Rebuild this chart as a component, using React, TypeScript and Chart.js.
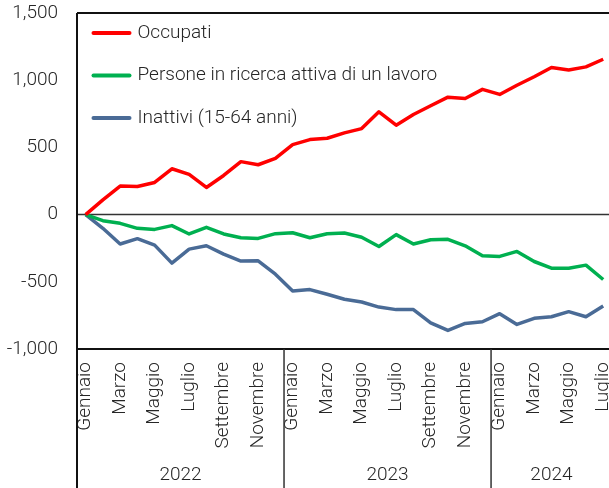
import React, { useEffect, useRef } from "react";
import { Chart, registerables } from "chart.js";
Chart.register(...registerables);

const MONTHS = ["Gennaio", "Febbraio", "Marzo", "Aprile", "Maggio", "Giugno", "Luglio", "Agosto", "Settembre", "Ottobre", "Novembre", "Dicembre"];
const YEARS = ["2022", "2023", "2024"];
const MONTHS_PER_YEAR = [12, 12, 7];
const Y_TICKS = [-1000, -500, 0, 500, 1000, 1500];

const SERIES_NAMES = ["Occupati", "Persone in ricerca attiva di un lavoro", "Inattivi (15-64 anni)"];
const SERIES_COLORS = ["#FF0000", "#00B050", "#4A6B96"];

const occupati = [0, 110, 212, 209, 239, 341, 299, 202, 291, 394, 371, 419, 521, 558, 568, 608, 640, 765, 665, 745, 810, 874, 864, 932, 894, 962, 1026, 1094, 1076, 1099, 1156];
const persone = [0, -45, -65, -102, -110, -82, -144, -95, -144, -172, -177, -142, -135, -172, -142, -137, -169, -237, -149, -219, -187, -184, -232, -306, -311, -274, -349, -399, -399, -376, -483];
const inattivi = [0, -102, -219, -179, -227, -361, -257, -232, -294, -346, -344, -443, -568, -558, -593, -630, -650, -688, -707, -707, -805, -862, -810, -797, -737, -817, -772, -760, -722, -760, -680];

const categories: string[] = [];
MONTHS_PER_YEAR.forEach((n) => {
  for (let i = 0; i < n; i++) categories.push(MONTHS[i]);
});

const FONT = "Roboto, 'Noto Sans', sans-serif";
const WEIGHT = 300;
const SIZE = 19;
const TEXT_COLOR = "#262626";

const framePlugin = {
  id: "frame",
  beforeDatasetsDraw(chart: any) {
    const { ctx, chartArea: a, scales } = chart;
    const y0 = scales.y.getPixelForValue(0);
    ctx.save();
    ctx.strokeStyle = "#333";
    ctx.lineWidth = 1.5;
    ctx.beginPath();
    ctx.moveTo(a.left, y0);
    ctx.lineTo(a.right, y0);
    ctx.stroke();
    ctx.restore();
  },
  afterDraw(chart: any) {
    const { ctx, chartArea: a, scales } = chart;
    const x = scales.x;
    const W = chart.width;
    const H = chart.height;
    ctx.save();
    ctx.strokeStyle = "#111";
    ctx.lineWidth = 2;
    ctx.beginPath();
    ctx.moveTo(a.left, a.top);
    ctx.lineTo(W, a.top);
    ctx.moveTo(a.left, a.bottom);
    ctx.lineTo(W, a.bottom);
    ctx.stroke();
    ctx.beginPath();
    ctx.moveTo(a.left, a.top);
    ctx.lineTo(a.left, H);
    ctx.stroke();

    // year groups
    const step = x.getPixelForValue(1) - x.getPixelForValue(0);
    let idx = 0;
    ctx.font = `${WEIGHT} ${SIZE}px ${FONT}`;
    ctx.fillStyle = TEXT_COLOR;
    ctx.textAlign = "center";
    ctx.textBaseline = "middle";
    YEARS.forEach((yr, k) => {
      const start = x.getPixelForValue(idx) - step / 2;
      const end = x.getPixelForValue(idx + MONTHS_PER_YEAR[k] - 1) + step / 2;
      if (k > 0) {
        ctx.strokeStyle = "#333";
        ctx.lineWidth = 1.5;
        ctx.beginPath();
        ctx.moveTo(start, a.bottom);
        ctx.lineTo(start, H);
        ctx.stroke();
      }
      ctx.fillText(yr, (start + end) / 2, 475);
      idx += MONTHS_PER_YEAR[k];
    });

    // legend
    const lx = a.left + 15.5;
    const ly = a.top + 20;
    chart.data.datasets.forEach((ds: any, i: number) => {
      const yy = ly + i * 42.5;
      ctx.strokeStyle = ds.borderColor;
      ctx.lineWidth = 4;
      ctx.lineCap = "round";
      ctx.beginPath();
      ctx.moveTo(lx + 1, yy);
      ctx.lineTo(lx + 37, yy);
      ctx.stroke();
      ctx.fillStyle = TEXT_COLOR;
      ctx.textAlign = "left";
      ctx.textBaseline = "middle";
      ctx.font = `${WEIGHT} ${SIZE}px ${FONT}`;
      ctx.fillText(ds.label, lx + 45, yy);
    });
    ctx.restore();
  },
};

export default function App() {
  const ref = useRef<HTMLCanvasElement>(null);
  useEffect(() => {
    if (!ref.current) return;
    const chart = new Chart(ref.current, {
      type: "line",
      data: {
        labels: categories,
        datasets: [occupati, persone, inattivi].map((d, i) => ({
          label: SERIES_NAMES[i],
          data: d,
          borderColor: SERIES_COLORS[i],
          backgroundColor: SERIES_COLORS[i],
          borderWidth: 3.5,
          pointRadius: 0,
          tension: 0,
          borderJoinStyle: "round" as const,
        })),
      },
      options: {
        responsive: false,
        animation: false,
        devicePixelRatio: 1,
        layout: { padding: { top: 13, right: 0, left: 0, bottom: 0 } },
        plugins: { legend: { display: false }, tooltip: { enabled: false } },
        scales: {
          x: {
            offset: true,
            grid: { display: true, drawOnChartArea: false, drawTicks: true, tickLength: 13, color: "rgba(0,0,0,0)" },
            border: { display: false },
            ticks: {
              autoSkip: false,
              maxRotation: 90,
              minRotation: 90,
              padding: 0,
              color: TEXT_COLOR,
              font: { family: FONT, size: SIZE, weight: WEIGHT as any },
              callback: (_v: any, i: number) => (i % 2 === 0 ? categories[i] : ""),
            },
            afterFit: (s: any) => {
              s.height = 139;
            },
          },
          y: {
            min: Y_TICKS[0],
            max: Y_TICKS[Y_TICKS.length - 1],
            grid: { display: true, drawOnChartArea: false, drawTicks: true, tickLength: 19, color: "rgba(0,0,0,0)" },
            border: { display: false },
            afterBuildTicks: (s: any) => {
              s.ticks = Y_TICKS.map((v) => ({ value: v }));
            },
            ticks: {
              padding: 0,
              color: TEXT_COLOR,
              font: { family: FONT, size: SIZE, weight: WEIGHT as any },
              callback: (v: any) => Number(v).toLocaleString("en-US"),
            },
            afterFit: (s: any) => {
              s.width = 77;
            },
          },
        },
      },
      plugins: [framePlugin],
    });
    return () => chart.destroy();
  }, []);
  return (
    <div style={{ position: "absolute", left: 0, top: 0, width: 609, height: 488, overflow: "hidden", background: "#fff" }}>
      <canvas ref={ref} width={626} height={488} style={{ display: "block", width: 626, height: 488 }} />
    </div>
  );
}
